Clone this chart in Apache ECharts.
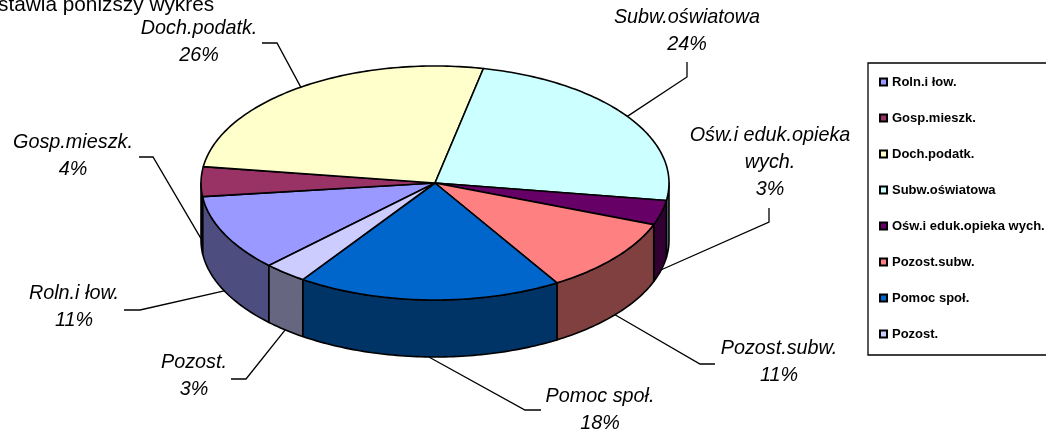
<!DOCTYPE html>
<html>
<head>
<meta charset="utf-8">
<title>Wykres</title>
<script src="https://cdn.jsdelivr.net/npm/echarts@6/dist/echarts.min.js"></script>
<style>
  html, body { margin: 0; padding: 0; background: #fff; }
  #chart { width: 1046px; height: 432px; }
</style>
</head>
<body>
<div id="chart"></div>
<script>
// data (percent shares, clockwise)
const categories = ['Roln.i łow.', 'Gosp.mieszk.', 'Doch.podatk.', 'Subw.oświatowa', 'Ośw.i eduk.opieka wych.', 'Pozost.subw.', 'Pomoc społ.', 'Pozost.'];
const shares = [10.6, 4.1, 26.1, 24.1, 3.4, 10.5, 18.3, 3.0];
const labelNames = ['Roln.i łow.', 'Gosp.mieszk.', 'Doch.podatk.', 'Subw.oświatowa', 'Ośw.i eduk.opieka\nwych.', 'Pozost.subw.', 'Pomoc społ.', 'Pozost.'];
const topColors = ['#9999FF', '#993366', '#FFFFCC', '#CCFFFF', '#660066', '#FF8080', '#0066CC', '#CCCCFF'];
const wallColors = ['#4D4D80', '#4D1A33', '#808066', '#668080', '#330033', '#804040', '#003366', '#666680'];

// pie layout
const cx = 435, cy = 183, rx = 234, ry = 117, depth = 57;
const startDeg = 225.2;

// label centre (first line) and elbow of the leader line, then the short end of it
const labelLayout = [
  { x: 74, y: 293, elbow: [140, 310], end: [124, 310] },
  { x: 73, y: 142, elbow: [153, 157], end: [139, 157] },
  { x: 199, y: 28, elbow: [277, 43], end: [262, 43] },
  { x: 687, y: 17, elbow: [687, 77], end: [687, 62] },
  { x: 770, y: 135, elbow: [769, 222], end: [769, 208] },
  { x: 779, y: 348, elbow: [700, 364], end: [715, 364] },
  { x: 600, y: 396, elbow: [525, 410], end: [541, 410] },
  { x: 194, y: 362, elbow: [246, 379], end: [231, 379] }
];

const total = shares.reduce((a, b) => a + b, 0);

const edgePoint = (deg, drop) => {
  const t = deg * Math.PI / 180;
  return [cx + rx * Math.sin(t), cy - ry * Math.cos(t) + drop];
};

const arcPoints = (from, to, drop) => {
  const pts = [];
  const steps = Math.max(2, Math.ceil(Math.abs(to - from)));
  for (let i = 0; i <= steps; i++) {
    pts.push(edgePoint(from + (to - from) * i / steps, drop));
  }
  return pts;
};

const sliceStart = (index) => startDeg + shares.slice(0, index).reduce((a, b) => a + b, 0) / total * 360;

// only the part of a slice between 90 and 270 degrees shows its wall
const wallRanges = (from, to) => {
  const out = [];
  [[90, 270], [450, 630]].forEach(([lo, hi]) => {
    const a = Math.max(from, lo);
    const b = Math.min(to, hi);
    if (b > a) out.push([a, b]);
  });
  return out;
};

const renderSlice = (params) => {
  const i = params.seriesIndex;
  const from = sliceStart(i);
  const to = sliceStart(i + 1);
  const mid = (from + to) / 2;
  const children = [];

  wallRanges(from, to).forEach(([a, b]) => {
    children.push({
      type: 'polygon',
      z2: 1,
      shape: { points: arcPoints(a, b, 0).concat(arcPoints(b, a, depth)) },
      style: { fill: wallColors[i], stroke: '#000', lineWidth: 1.6, lineJoin: 'round' }
    });
  });

  children.push({
    type: 'polygon',
    z2: 2,
    shape: { points: [[cx, cy]].concat(arcPoints(from, to, 0)) },
    style: { fill: topColors[i], stroke: '#000', lineWidth: 1.6, lineJoin: 'round' }
  });

  const front = Math.cos(mid * Math.PI / 180) < 0.05;
  const layout = labelLayout[i];
  children.push({
    type: 'polyline',
    z2: 3,
    shape: { points: [edgePoint(mid, front ? depth : 0), layout.elbow, layout.end] },
    style: { fill: null, stroke: '#000', lineWidth: 1.3 }
  });
  children.push({
    type: 'text',
    z2: 3,
    style: {
      x: layout.x,
      y: layout.y - 13,
      text: labelNames[i] + '\n' + Math.round(shares[i]) + '%',
      fill: '#000',
      font: 'italic 19.8px "Liberation Sans", Arial, sans-serif',
      lineHeight: 27,
      align: 'center',
      verticalAlign: 'top'
    }
  });

  return { type: 'group', children };
};

const chart = echarts.init(document.getElementById('chart'));

chart.setOption({
  animation: false,
  title: {
    text: 'stawia poniższy wykres',
    left: -2,
    top: -5,
    padding: 0,
    textStyle: { fontFamily: '"Liberation Sans", Arial, sans-serif', fontSize: 20.8, fontWeight: 'normal', color: '#000' }
  },
  legend: {
    orient: 'vertical',
    left: 868,
    top: 63,
    padding: [12, 40, 14, 11],
    itemWidth: 7,
    itemHeight: 7,
    itemGap: 22,
    icon: 'rect',
    borderColor: '#000',
    borderWidth: 1.3,
    selectedMode: false,
    textStyle: { fontFamily: '"Liberation Sans", Arial, sans-serif', fontSize: 13, fontWeight: 'bold', color: '#000', lineHeight: 14, padding: [0, 0, 0, 0] },
    data: categories
  },
  series: categories.map((name, i) => ({
    type: 'custom',
    name,
    coordinateSystem: 'none',
    renderItem: renderSlice,
    itemStyle: { color: topColors[i], borderColor: '#000', borderWidth: 1 },
    data: [shares[i]]
  }))
});
</script>
</body>
</html>
